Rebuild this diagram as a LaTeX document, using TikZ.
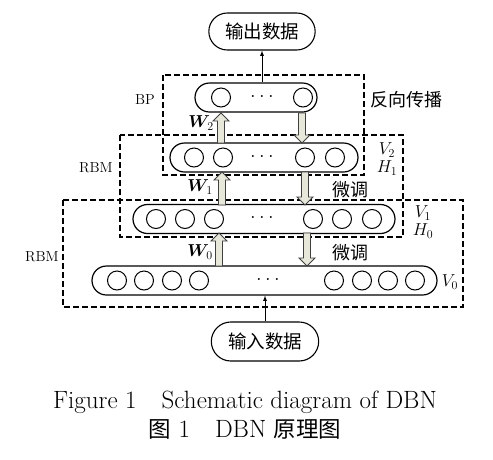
\documentclass[tikz,border=0pt]{standalone}
\usepackage{fontspec}
\usepackage{bm}
\newfontfamily\cjk{Noto Sans CJK SC}
\usepackage{tikz}
\usetikzlibrary{shapes,arrows}
\usetikzlibrary{calc,positioning}

% block arrows: x, from y, to y
\newcommand{\uparr}[3]{\draw[fat] ({#1-3.5},#2) -- ({#1-3.5},{#3+8}) -- ({#1-8},{#3+8}) -- (#1,#3) -- ({#1+8},{#3+8}) -- ({#1+3.5},{#3+8}) -- ({#1+3.5},#2) -- cycle;}
\newcommand{\downarr}[3]{\draw[fat] ({#1-3.5},#2) -- ({#1-3.5},{#3-8}) -- ({#1-8},{#3-8}) -- (#1,#3) -- ({#1+8},{#3-8}) -- ({#1+3.5},{#3-8}) -- ({#1+3.5},#2) -- cycle;}

\definecolor{fatfill}{RGB}{232,232,218}

\begin{document}
\begin{tikzpicture}[x=1pt,y=-1pt]
    \tikzstyle{io} = [rounded rectangle, draw, line width=1.1pt, font=\fontsize{18.5}{20}\selectfont\cjk]
    \tikzstyle{layer} = [rounded rectangle, draw, line width=1.2pt, minimum height=29pt, inner sep=0pt]
    \tikzstyle{unit} = [circle, draw, line width=1pt, minimum size=19pt, inner sep=0pt]
    \tikzstyle{dbox} = [draw, line width=1.6pt, dash pattern=on 6pt off 3pt]
    \tikzstyle{fat} = [draw=black!75, fill=fatfill, line width=0.8pt]
    \tikzstyle{lbl} = [font=\fontsize{14.5}{16}\selectfont]
    \tikzstyle{mth} = [font=\fontsize{17}{19}\selectfont]
    \tikzstyle{dots} = [font=\fontsize{20}{22}\selectfont]
    \tikzstyle{zh} = [font=\fontsize{18}{20}\selectfont\cjk]
    \useasboundingbox (0,0) rectangle (493,459);

    % layers .........................
	\node[layer, minimum width=345pt] (l0) at (264.5,280.5) {};
	\node[layer, minimum width=262pt] (l1) at (264,219) {};
	\node[layer, minimum width=188pt] (l2) at (264,157.5) {};
	\node[layer, minimum width=122pt] (l3) at (256,97.5) {};

	\foreach \x in {117,144,172,199,334,362,388,415}
	    \node[unit] (u0-\x) at (\x,280.5) {};
	\foreach \x in {156,185,214,313,342,372}
	    \node[unit] (u1-\x) at (\x,219) {};
	\foreach \x in {194,223,305,335}
	    \node[unit] (u2-\x) at (\x,157.5) {};
	\foreach \x in {221,303}
	    \node[unit] (u3-\x) at (\x,97.5) {};

	\node[dots] (d0) at (268,279) {$\dots$};
	\node[dots] (d1) at (262,217) {$\dots$};
	\node[dots] (d2) at (262,156) {$\dots$};
	\node[dots] (d3) at (262,96) {$\dots$};

    % in / out .........................
	\node[io, minimum width=113pt, minimum height=37pt] (out) at (262,31.5) {输出数据};
	\node[io, minimum width=114pt, minimum height=39pt] (in) at (265,341.5) {输入数据};
	\draw[-latex, line width=0.8pt] (out.south |- l3.north) -- (out.south);
	\draw[-latex, line width=0.8pt] (in.north) -- (in.north |- l0.south);

    % dashed boxes .........................
	\draw[dbox] (163,75) rectangle (364,175);
	\draw[dbox] (120,135) rectangle (403,237);
	\draw[dbox] (63,200) rectangle (463,307);

    % weights and fine tuning .........................
	\uparr{221}{143}{113}
	\downarr{302}{113}{143}
	\uparr{222}{205}{172}
	\downarr{305}{172}{205}
	\uparr{219}{266}{233}
	\downarr{307}{233}{266}

	\node[mth] (w2) at (201,123) {$\bm{W}_2$};
	\node[mth] (w1) at (200,187) {$\bm{W}_1$};
	\node[mth] (w0) at (200,252) {$\bm{W}_0$};
	\node[zh] (ft1) at (350,190) {微调};
	\node[zh] (ft0) at (350,253) {微调};
	\node[zh] (bp) at (406,100) {反向传播};

	\node[lbl] (nbp) at (145,100) {BP};
	\node[lbl] (nrbm2) at (96,168) {RBM};
	\node[lbl] (nrbm1) at (42,257) {RBM};
	\node[mth] (v2) at (387,150) {$V_2$};
	\node[mth] (h1) at (387,168) {$H_1$};
	\node[mth] (v1) at (423,213) {$V_1$};
	\node[mth] (h0) at (423,231) {$H_0$};
	\node[mth] (v0) at (450,282) {$V_0$};

    % caption .........................
	\node[font=\fontsize{25}{27}\selectfont] (cap1) at (245,402) {Figure 1\quad Schematic diagram of DBN};
	\node[font=\fontsize{25}{27}\selectfont] (cap2) at (245,429) {{\cjk\fontsize{22.5}{24}\selectfont 图} 1\quad DBN {\cjk\fontsize{22.5}{24}\selectfont 原理图}};

\end{tikzpicture}
\end{document}
